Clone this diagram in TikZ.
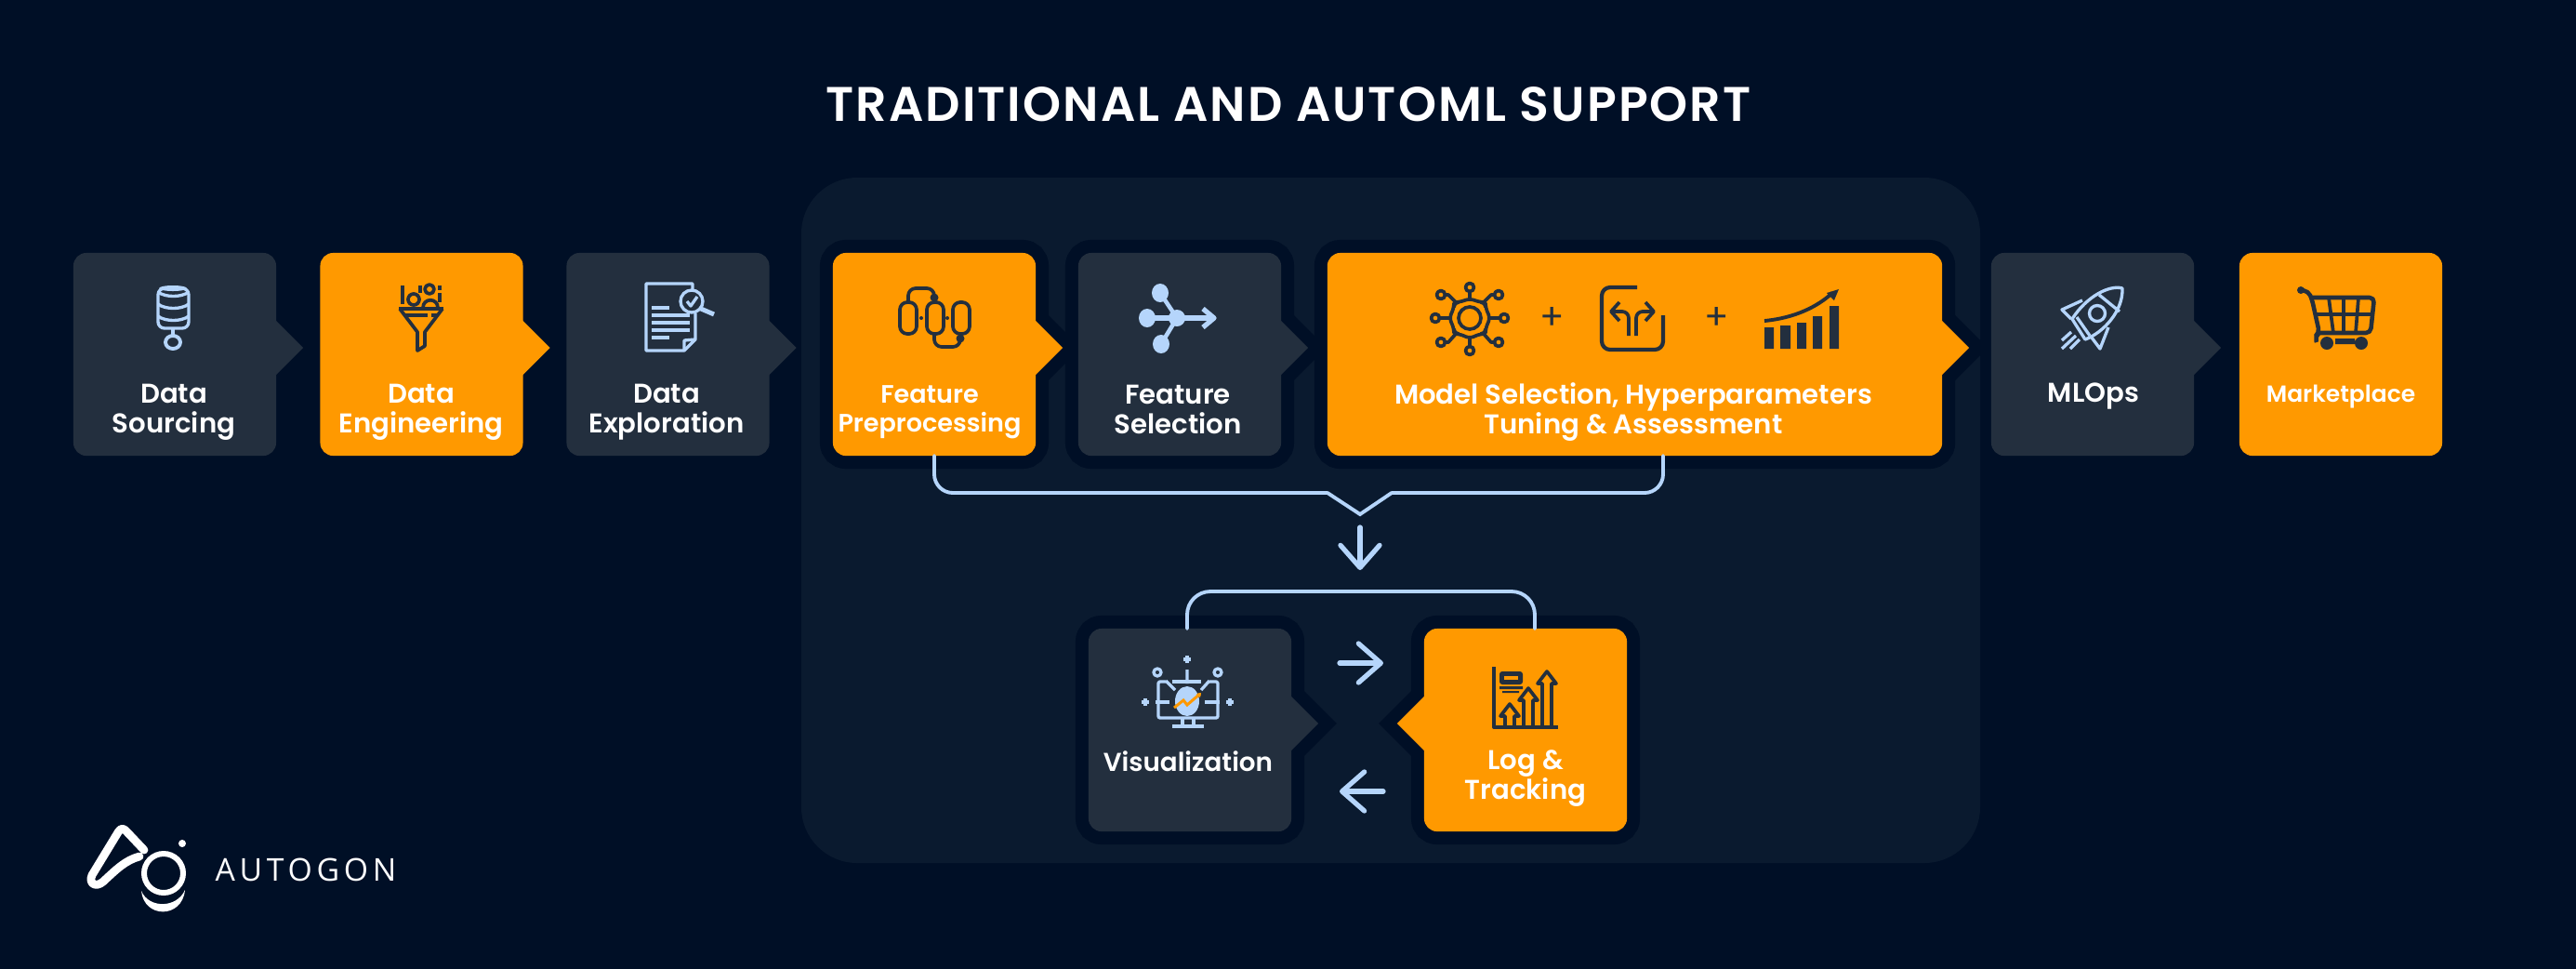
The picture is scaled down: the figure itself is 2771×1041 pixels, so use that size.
\documentclass[tikz,border=0pt]{standalone}
\usepackage{fontspec}
\setmainfont{Poppins}[BoldFont={Poppins SemiBold}]
\newfontfamily\titlefont[LetterSpace=4]{Poppins SemiBold}
\newfontfamily\logofont[LetterSpace=14]{Open Sans}
\usetikzlibrary{calc}
\usetikzlibrary{arrows.meta}
\usetikzlibrary{backgrounds}
\definecolor{pagebg}{HTML}{000F26}
\definecolor{panelbg}{HTML}{0A1A2F}
\definecolor{boxdark}{HTML}{232F3E}
\definecolor{boxorange}{HTML}{FF9900}
\definecolor{skyline}{HTML}{B5D5FB}
\newcommand{\tipright}[2]{\fill[#2] ($(#1.east)+(-1,-37)$) -- ($(#1.east)+(0,-36)$) -- ($(#1.east)+(29,-7)$) -- ($(#1.east)+(0,22)$) -- ($(#1.east)+(-1,23)$) -- cycle;}
\newcommand{\tipleft}[2]{\fill[#2] ($(#1.west)+(1,-37)$) -- ($(#1.west)+(0,-36)$) -- ($(#1.west)+(-29,-7)$) -- ($(#1.west)+(0,22)$) -- ($(#1.west)+(1,23)$) -- cycle;}
\newcommand{\halobox}[1]{\draw[haloline, rounded corners=.14cm] (#1.south west) rectangle (#1.north east);}

\begin{document}
\begin{tikzpicture}[x=0.01cm, y=-0.01cm,
		stepbox/.style={rectangle, rounded corners=.14cm, minimum width=2.18cm, minimum height=2.18cm,
						inner sep=0pt, outer sep=0pt, fill=#1},
		haloline/.style={draw=pagebg, line width=7.97pt, miter limit=10},
		steplabel/.style={text=white, align=center, inner sep=0pt, font=\fontsize{8.3}{9.1}\selectfont\bfseries},
		link/.style={draw=skyline, line width=1.1pt, line cap=round},
		flow/.style={draw=skyline, line width=1.5pt, line cap=round,
						-{Straight Barb[length=.24cm, width=.42cm, line cap=round, round]}},
		icondark/.style={draw=boxdark, line width=1.05pt, line join=round},
		iconsky/.style={draw=skyline, line width=.95pt, line join=round}]

	\useasboundingbox (0,0) rectangle (2771,1041);
	\begin{scope}[on background layer]
		\fill[pagebg] (-10,-10) rectangle (2781,1051);
		\fill[panelbg, rounded corners=.6cm] (862,191) rectangle (2130,928);
	\end{scope}

	\node[text=white, inner sep=0pt, font=\fontsize{14.85}{18}\titlefont] (title) at (1386,112) {TRADITIONAL AND AUTOML SUPPORT};

	% first row
	\node[stepbox=boxdark] (src) at (188,381) {};
	\node[stepbox=boxorange] (eng) at (453.5,381) {};
	\node[stepbox=boxdark] (expl) at (718.5,381) {};
	\node[stepbox=boxorange] (prep) at (1005,381) {};
	\node[stepbox=boxdark] (sel) at (1269,381) {};
	\node[stepbox=boxorange, minimum width=6.61cm] (model) at (1758.5,381) {};
	\node[stepbox=boxdark] (mlops) at (2251,381) {};
	\node[stepbox=boxorange] (market) at (2518,381) {};

	% second row
	\node[stepbox=boxdark] (vis) at (1280,785) {};
	\node[stepbox=boxorange] (track) at (1641,785) {};

	\begin{scope}[on background layer]
		\halobox{prep}
		\halobox{sel}
		\halobox{model}
		\halobox{vis}
		\halobox{track}
		\draw[haloline] ($(prep.east)+(0,-36)$) -- ($(prep.east)+(29,-7)$) -- ($(prep.east)+(0,22)$) -- cycle;
		\draw[haloline] ($(sel.east)+(0,-36)$) -- ($(sel.east)+(29,-7)$) -- ($(sel.east)+(0,22)$) -- cycle;
		\draw[haloline] ($(model.east)+(0,-36)$) -- ($(model.east)+(29,-7)$) -- ($(model.east)+(0,22)$) -- cycle;
		\draw[haloline] ($(vis.east)+(0,-36)$) -- ($(vis.east)+(29,-7)$) -- ($(vis.east)+(0,22)$) -- cycle;
		\draw[haloline] ($(track.west)+(0,-36)$) -- ($(track.west)+(-29,-7)$) -- ($(track.west)+(0,22)$) -- cycle;
	\end{scope}

	\tipright{src}{boxdark}
	\tipright{eng}{boxorange}
	\tipright{expl}{boxdark}
	\tipright{prep}{boxorange}
	\tipright{sel}{boxdark}
	\tipright{model}{boxorange}
	\tipright{mlops}{boxdark}
	\tipright{vis}{boxdark}
	\tipleft{track}{boxorange}

	\node[steplabel] (srclabel) at (187,443) {Data\\Sourcing};
	\node[steplabel] (englabel) at (453,443) {Data\\Engineering};
	\node[steplabel] (expllabel) at (717,443) {Data\\Exploration};
	\node[steplabel, font=\fontsize{7.7}{8.8}\selectfont\bfseries] (preplabel) at (1000,443) {Feature\\Preprocessing};
	\node[steplabel] (sellabel) at (1267,440) {Feature\\Selection};
	\node[steplabel] (modellabel) at (1757,443) {Model Selection, Hyperparameters\\Tuning \& Assessment};
	\node[steplabel] (mlopslabel) at (2252,426) {MLOps};
	\node[steplabel, font=\fontsize{7.1}{8.8}\selectfont\bfseries] (marketlabel) at (2518,427) {Marketplace};
	\node[steplabel, font=\fontsize{7.9}{8.8}\selectfont\bfseries] (vislabel) at (1278,819) {Visualization};
	\node[steplabel] (tracklabel) at (1641,837) {Log \&\\Tracking};

	% connectors
	\coordinate (notchl) at (1428,530);
	\coordinate (notch) at (1463,553);
	\coordinate (notchr) at (1497,530);
	\coordinate (modelout) at (1789,490);
	\draw[link, rounded corners=.2cm] (prep.south) |- (notchl);
	\draw[link] (notchl) -- (notch) -- (notchr);
	\draw[link, rounded corners=.2cm] (notchr) -| (modelout);
	\coordinate (visout) at (1277,676);
	\coordinate (trackout) at (1651,676);
	\draw[link, rounded corners=.25cm] (visout) |- (1464,636) -| (trackout);
	\coordinate (downa) at (1463,567);
	\coordinate (downb) at (1463,613);
	\draw[flow] (downa) -- (downb);
	\coordinate (fwda) at (1441,713);
	\coordinate (fwdb) at (1488,713);
	\draw[flow] (fwda) -- (fwdb);
	\coordinate (backa) at (1488,851);
	\coordinate (backb) at (1441,851);
	\draw[flow] (backa) -- (backb);

	% database
	\draw[iconsky, rounded corners=.07cm] (170,310) rectangle (203,353);
	\draw[iconsky] (170,314) .. controls (178,320) and (195,320) .. (203,314);
	\draw[iconsky] (170,327) .. controls (178,333) and (195,333) .. (203,327);
	\draw[iconsky] (170,340) .. controls (178,346) and (195,346) .. (203,340);
	\fill[skyline] (186,310) ellipse [x radius=15, y radius=3];
	\draw[iconsky] (186,353) -- (186,361);
	\draw[iconsky, line width=1.1pt] (186,368) circle [x radius=8, y radius=7];

	% funnel
	\draw[icondark, line width=1.3pt] (429,332) -- (477,332);
	\draw[icondark] (430,332) -- (449,357) -- (449,377) -- (457,372) -- (457,357) -- (476,332);
	\draw[icondark] (436,339) -- (460,339) (464,339) -- (470,339);
	\draw[icondark] (445,322) circle (6);
	\draw[icondark] (462,311) circle (5);
	\draw[icondark] (455,331) .. controls (455,320) and (471,320) .. (471,331);
	\draw[icondark] (433,307) -- (433,327) (452,307) -- (452,315) (473,307) -- (473,312) (473,315) -- (473,325);

	% document
	\draw[iconsky] (748,337) -- (748,365) -- (736,377) -- (695,377) -- (695,305) -- (745,305) -- (745,311);
	\draw[iconsky] (736,377) -- (736,366) -- (748,365);
	\draw[iconsky, line width=1.2pt] (701,331) -- (720,331) (701,339) -- (742,339) (701,347) -- (742,347) (701,355) -- (742,355) (701,363) -- (720,363);
	\draw[iconsky] (744,324) circle (12);
	\draw[iconsky, line width=1.4pt] (754,332) -- (768,338);
	\draw[iconsky] (739,324) -- (743,329) -- (750,319);

	% capsules
	\draw[icondark, rounded corners=.08cm] (968,325) rectangle (986,359);
	\draw[icondark, rounded corners=.08cm] (997,325) rectangle (1015,359);
	\draw[icondark, rounded corners=.08cm] (1025,325) rectangle (1043,359);
	\draw[icondark, rounded corners=.08cm] (977,325) |- (1005,310) -- (1005,319);
	\draw[icondark, rounded corners=.08cm] (1005,359) |- (1033,373) -- (1033,364);
	\fill[boxdark] (1005,320) circle (4.5) (1033,364) circle (4.5) (991,342) circle (2) (1019,342) circle (2);

	% branches
	\fill[skyline] (1248,315) ellipse [x radius=9, y radius=10]
		(1234,342) ellipse [x radius=9, y radius=10]
		(1249,370) ellipse [x radius=9, y radius=10]
		(1266,342) circle (9);
	\draw[iconsky, line width=1.3pt] (1248,315) -- (1266,342) -- (1249,370);
	\draw[iconsky, line width=1.5pt] (1234,342) -- (1303,342);
	\draw[iconsky, line width=1.5pt] (1294,332) -- (1306,342) -- (1294,352);

	% network
	\draw[icondark] (1581,342) circle (12);
	\draw[icondark, rounded corners=.05cm] (1581,321) -- (1592,325) -- (1598,325) -- (1598,331) -- (1603,342) -- (1598,353) -- (1598,359) -- (1592,359) -- (1581,364) -- (1570,359) -- (1564,359) -- (1564,353) -- (1559,342) -- (1564,331) -- (1564,325) -- (1570,325) -- cycle;
	\draw[icondark] (1581,321) -- (1581,314) (1581,364) -- (1581,372) (1559,342) -- (1549,342) (1603,342) -- (1613,342);
	\draw[icondark] (1566,325) -- (1558,317) -- (1554,317) (1596,325) -- (1604,317) -- (1608,317) (1566,359) -- (1558,368) -- (1554,368) (1596,359) -- (1604,368) -- (1608,368);
	\draw[icondark] (1581,309) circle (4.5) (1581,377) circle (4.5) (1544,342) circle (4.5) (1618,342) circle (4.5)
		(1550,317) circle (4.5) (1612,317) circle (4.5) (1550,368) circle (4.5) (1612,368) circle (4.5);
	\node[text=boxdark, inner sep=0pt, font=\fontsize{11}{12}\selectfont] (plusa) at (1670,342) {+};

	% forked road
	\draw[icondark, line width=1.2pt, rounded corners=.09cm] (1761,309) -- (1723,309) -- (1723,376) -- (1789,376) -- (1789,339);
	\draw[icondark, rounded corners=.07cm] (1752,361) -- (1752,335) -- (1735,335);
	\draw[icondark, rounded corners=.07cm] (1760,361) -- (1760,335) -- (1777,335);
	\draw[icondark] (1742,325) -- (1733,335) -- (1742,345) (1770,325) -- (1779,335) -- (1770,345);
	\node[text=boxdark, inner sep=0pt, font=\fontsize{11}{12}\selectfont] (plusb) at (1847,342) {+};

	% bars
	\fill[boxdark] (1898,352) rectangle (1908,375) (1915,350) rectangle (1926,375) (1933,347) rectangle (1943,375)
		(1950,340) rectangle (1960,375) (1968,329) rectangle (1978,375);
	\draw[icondark, line width=1.1pt] (1898,345) .. controls (1930,342) and (1955,330) .. (1971,315);
	\fill[boxdark] (1978,311) -- (1973,323) -- (1965,315) -- cycle;

	% rocket
	\draw[iconsky] (2283,310) .. controls (2270,306) and (2245,318) .. (2229,343) -- (2243,365) .. controls (2262,358) and (2284,335) .. cycle;
	\draw[iconsky] (2258,317) -- (2280,335) (2234,341) -- (2248,361);
	\draw[iconsky] (2256,337) circle (8.5);
	\draw[iconsky] (2240,323) -- (2218,333) -- (2228,343) (2268,352) -- (2259,375) -- (2250,363);
	\draw[iconsky] (2218,366) -- (2228,357) (2218,375) -- (2233,361) (2227,375) -- (2237,365);

	% cart
	\draw[icondark, line width=1.3pt, rounded corners=.05cm] (2475,312) -- (2483,313) -- (2487,322) -- (2495,358) -- (2490,362) -- (2492,368);
	\draw[icondark, line width=1.3pt, rounded corners=.05cm] (2487,320) -- (2554,320) -- (2550,358) -- (2493,358);
	\draw[icondark] (2490,338) -- (2552,338) (2505,320) -- (2510,358) (2521,320) -- (2521,358) (2537,320) -- (2534,358);
	\fill[boxdark] (2475,312) circle (4) (2503,369) circle (7) (2540,369) circle (7) (2512,364) rectangle (2533,370);

	% monitor
	\fill[skyline] (1277,754) ellipse [x radius=13, y radius=16];
	\draw[iconsky, rounded corners=.02cm] (1254,733) -- (1246,733) -- (1246,772) -- (1310,772) -- (1310,733) -- (1301,733);
	\draw[iconsky] (1261,733) -- (1292,733);
	\draw[iconsky] (1272,772) -- (1272,781) (1284,772) -- (1284,781) (1261,781) -- (1295,781);
	\draw[iconsky] (1277,720) -- (1277,735) (1254,732) -- (1264,742) (1301,732) -- (1292,742);
	\draw[iconsky] (1243,755) -- (1258,755) (1296,755) -- (1312,755);
	\draw[iconsky] (1277,705) -- (1277,713) (1273,709) -- (1281,709) (1232,751) -- (1232,759) (1228,755) -- (1236,755) (1323,751) -- (1323,759) (1319,755) -- (1327,755);
	\draw[iconsky] (1245,723) circle (4) (1310,723) circle (4);
	\draw[boxorange, line width=.85pt] (1263,761) -- (1273,753) -- (1277,758) -- (1291,746);
	\fill[boxorange] (1292,745) -- (1287,746) -- (1291,750) -- cycle;

	% rising arrows
	\draw[icondark, line width=1.1pt] (1607,717) -- (1607,782) -- (1676,782);
	\fill[boxdark, rounded corners=.03cm] (1613,722) rectangle (1638,736);
	\fill[boxorange] (1618,727) rectangle (1633,731);
	\fill[boxdark] (1613,738) rectangle (1638,741) (1616,743) rectangle (1634,745);
	\draw[icondark] (1619,780) -- (1619,770) -- (1614,770) -- (1624,757) -- (1634,770) -- (1629,770) -- (1629,780);
	\draw[icondark] (1639,780) -- (1639,753) -- (1634,753) -- (1644,740) -- (1654,753) -- (1649,753) -- (1649,780);
	\draw[icondark] (1659,780) -- (1659,735) -- (1654,735) -- (1664,722) -- (1674,735) -- (1669,735) -- (1669,780);

	% logo
	\draw[white, line width=2.5pt, line join=round, line cap=round] (155,914) -- (137,895) .. controls (133,890) and (130,890) .. (127,895) -- (99,941) .. controls (95,950) and (103,955) .. (111,948) .. controls (125,935) and (135,925) .. (150,921);
	\draw[white, line width=1.7pt] (176,939) circle (21);
	\fill[white] (196,907) circle (4);
	\fill[white] (152,958) .. controls (155,988) and (196,988) .. (199,957) .. controls (190,977) and (160,977) .. cycle;
	\node[text=white, inner sep=0pt, font=\fontsize{9.6}{11}\logofont] (logotext) at (329,935) {AUTOGON};
\end{tikzpicture}
\end{document}
